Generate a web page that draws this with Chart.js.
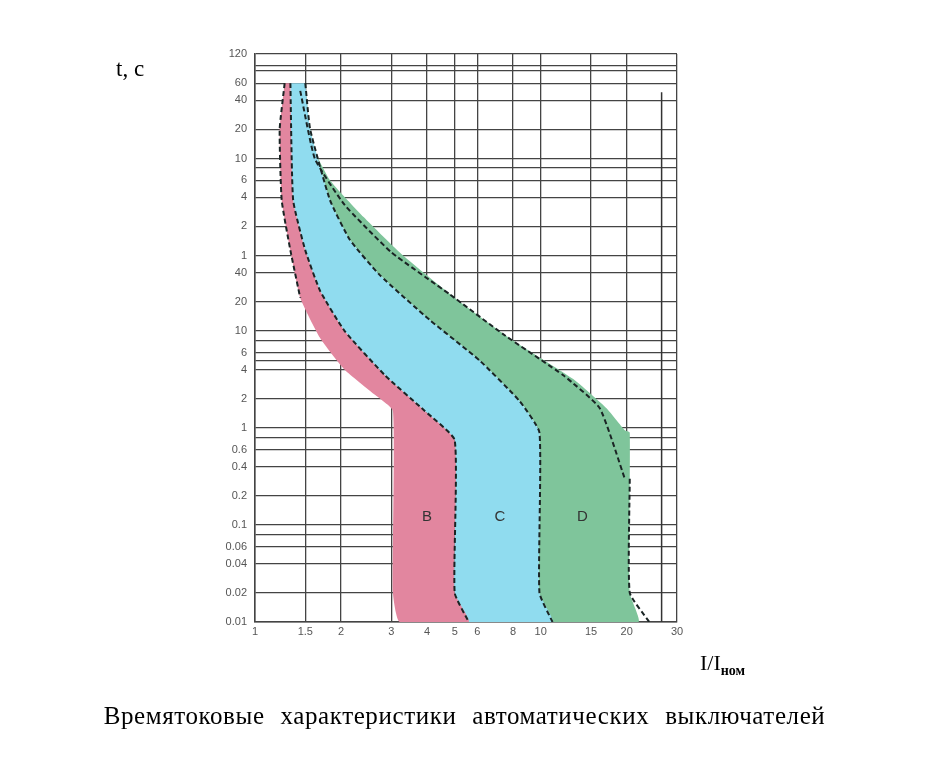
<!DOCTYPE html>
<html>
<head>
<meta charset="utf-8">
<script src="https://cdn.jsdelivr.net/npm/chart.js@4.4.1/dist/chart.umd.min.js"></script>
<style>
body { margin: 0; background: #fff; }
.lbl { position: absolute; font-family: "Liberation Serif", serif; color: #000; }
</style>
</head>
<body>
<div style="position:relative;width:929px;height:768px">
<canvas id="c" width="929" height="768"></canvas>
<div class="lbl" style="left:116px;top:56px;font-size:23px">t, c</div>
<div class="lbl" style="left:700px;top:650px;font-size:22px">I/I<sub style="font-size:14px;font-weight:bold">ном</sub></div>
<div class="lbl" style="left:0;width:929px;top:702px;font-size:25px;text-align:center;letter-spacing:0.6px;word-spacing:9px">Времятоковые характеристики автоматических выключателей</div>
</div>
<script>
// tick values (seconds) and their printed labels (upper part in minutes)
const yTickValues = [7200, 5400, 4800, 3600, 2400, 1200, 600, 480, 360, 240, 120, 60, 40, 20, 10, 8, 6, 5, 4, 2, 1, 0.8, 0.6, 0.4, 0.2, 0.1, 0.08, 0.06, 0.04, 0.02, 0.01];
const yTickLabels = ['120', '', '', '60', '40', '20', '10', '', '6', '4', '2', '1', '40', '20', '10', '', '6', '', '4', '2', '1', '', '0.6', '0.4', '0.2', '0.1', '', '0.06', '0.04', '0.02', '0.01'];
const xTickValues = [1, 1.5, 2, 3, 4, 5, 6, 8, 10, 15, 20, 30];
const xTickLabels = ['1', '1.5', '2', '3', '4', '5', '6', '8', '10', '15', '20', '30'];
const xGridValues = [1, 1.5, 2, 3, 4, 5, 6, 8, 10, 15, 20, 30];

// curve B: lower (left) boundary and upper (right, dashed) boundary
const bLeft = [[1.27,3600],[1.22,1200],[1.24,224],[1.33,68],[1.44,22],[1.69,8.5],[2.06,4],[2.63,2.2],[3.04,1.5],[3.04,0.02],[3.21,0.01]];
const bRight = [[1.33,3600],[1.36,224],[1.5,68],[1.69,26],[2.06,10],[2.85,3.5],[3.93,1.5],[5.0,0.75],[5.0,0.02],[5.6,0.01]];
// curve C: upper (dashed) boundary
const cRight = [[1.5,3600],[1.56,1200],[1.83,224],[2.15,87],[2.73,38],[4.09,13],[6.1,5],[8.43,1.9],[9.9,0.9],[9.9,0.02],[11,0.01]];
// curve D: upper outer boundary, inner dashed line, right dashed edge
const dOuter = [[1.5,3600],[1.56,930],[1.83,360],[2.4,150],[3.3,60],[5.0,22],[8.0,8],[13.0,3.2],[17,1.6],[19.7,0.95],[20.5,0.9],[20.5,0.02],[22,0.01]];
const dInner = [[1.44,3000],[1.62,600],[2.06,200],[3.0,65],[4.8,24],[7.5,9],[12,3.5],[16.1,1.6],[19.7,0.3]];
const dEdge = [[20.5,0.3],[20.5,0.02],[24,0.01]];
const bLeftDash = [[1.27,3600],[1.22,1200],[1.24,224],[1.33,68],[1.44,22]];
const markerLine = [[26.5,2900],[26.5,0.01]];
const zoneLabels = [['B',4,0.12],['C',7.2,0.12],['D',14,0.12]];

const pts = a => a.map(p => ({ x: p[0], y: p[1] }));
const poly = (a, b) => pts(a.concat(b.slice().reverse()));

function area(data, color, order) {
  return { data: data, order: order, fill: 'shape', backgroundColor: color, borderWidth: 0, pointRadius: 0, tension: 0.15 };
}
function dash(data) {
  return { data: pts(data), order: 0, fill: false, borderColor: '#1a2424', borderWidth: 2, borderDash: [5, 3], pointRadius: 0, tension: 0.15 };
}

const zonePlugin = {
  id: 'zones',
  afterDatasetsDraw(chart) {
    const c = chart.ctx, xs = chart.scales.x, ys = chart.scales.y;
    c.save();
    c.font = '15px "Liberation Sans", Arial';
    c.fillStyle = '#333';
    c.textAlign = 'center';
    c.textBaseline = 'middle';
    zoneLabels.forEach(z => c.fillText(z[0], xs.getPixelForValue(z[1]), ys.getPixelForValue(z[2])));
    c.restore();
  }
};

new Chart(document.getElementById('c'), {
  type: 'line',
  data: {
    datasets: [
      area(poly(cRight, dOuter), '#7fc59b', 3),
      area(poly(bRight, cRight), '#90dcef', 2),
      area(poly(bLeft, bRight), '#e2869f', 1),
      dash(bRight), dash(cRight), dash(dInner), dash(dEdge), dash(bLeftDash),
      { data: pts(markerLine), order: 0, borderColor: '#333', borderWidth: 1.5, pointRadius: 0, fill: false }
    ]
  },
  options: {
    responsive: false,
    animation: false,
    layout: { padding: { left: 205, right: 252, top: 54, bottom: 124 } },
    plugins: { legend: { display: false }, tooltip: { enabled: false } },
    scales: {
      x: {
        type: 'logarithmic', min: 1, max: 30,
        afterBuildTicks: s => { s.ticks = xGridValues.map(v => ({ value: v })); },
        afterFit: s => { s.height = 22; },
        ticks: {
          autoSkip: false, maxRotation: 0, color: '#555', font: { size: 11, family: 'Liberation Sans' },
          callback: v => { const i = xTickValues.indexOf(v); return i < 0 ? '' : xTickLabels[i]; }
        },
        grid: { color: '#444', lineWidth: 1.3, drawTicks: false },
        border: { color: '#444', width: 1.5 }
      },
      y: {
        type: 'logarithmic', min: 0.01, max: 7200,
        afterBuildTicks: s => { s.ticks = yTickValues.map(v => ({ value: v })); },
        afterFit: s => { s.width = 50; },
        ticks: {
          autoSkip: false, padding: 8, color: '#555', font: { size: 11, family: 'Liberation Sans' },
          callback: (v, i) => yTickLabels[i]
        },
        grid: { color: '#444', lineWidth: 1.3, drawTicks: false },
        border: { color: '#444', width: 1.5 }
      }
    }
  },
  plugins: [zonePlugin]
});
</script>
</body>
</html>
